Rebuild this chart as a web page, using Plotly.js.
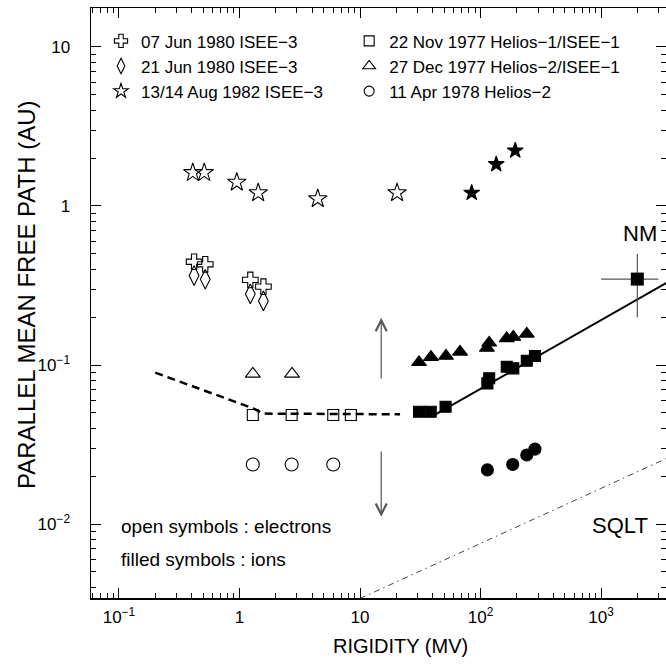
<!DOCTYPE html>
<html>
<head>
<meta charset="utf-8">
<script src="https://cdn.plot.ly/plotly-3.0.1.min.js"></script>
<style>html,body{margin:0;padding:0;background:#fff;}#chart{width:666px;height:664px;}</style>
</head>
<body>
<div id="chart"></div>
<script>
// ---- data (rigidity in MV, mean free path in AU) ----
const crossX   = [0.42, 0.52, 1.23, 1.58];
const crossY   = [0.446, 0.43, 0.343, 0.311];
const diamondX = [0.42, 0.52, 1.23, 1.58];
const diamondY = [0.365, 0.346, 0.28, 0.253];
const starOpenX = [0.41, 0.51, 0.95, 1.43, 4.46, 20.3];
const starOpenY = [1.62, 1.62, 1.41, 1.21, 1.11, 1.21];
const starFillX = [84.5, 135, 194];
const starFillY = [1.21, 1.83, 2.23];
const sqOpenX = [1.29, 2.71, 6.0, 8.4];
const sqOpenY = [0.0485, 0.0485, 0.0485, 0.0485];
const sqFillX = [30.9, 38.6, 51.3, 114, 118, 165, 187, 242, 283];
const sqFillY = [0.0508, 0.0508, 0.0547, 0.0767, 0.0825, 0.0976, 0.0953, 0.1064, 0.114];
const triOpenX = [1.29, 2.73];
const triOpenY = [0.088, 0.088];
const triFillX = [30.9, 38.8, 51.7, 67.6, 113, 118, 165, 187, 242];
const triFillY = [0.104, 0.112, 0.114, 0.121, 0.128, 0.138, 0.147, 0.150, 0.157];
const circOpenX = [1.29, 2.71, 6.0];
const circOpenY = [0.0237, 0.0237, 0.0237];
const circFillX = [114, 185, 242, 283];
const circFillY = [0.0219, 0.0237, 0.0272, 0.0296];
const nmX = [2000];
const nmY = [0.347];
const nmXminus = [1000], nmXplus = [990];
const nmYminus = [0.147], nmYplus = [0.152];
const electronFitX = [0.2, 1.3, 1.58, 21.5];
const electronFitY = [0.0895, 0.0534, 0.0495, 0.049];
const ionFitX = [42, 3600];
const ionFitY = [0.0487, 0.333];
const sqltX = [10, 4000];
const sqltY = [0.0034, 0.0271];
const arrowX = 15;
const arrowUp = {tail: 0.0805, head: 0.198};
const arrowDown = {tail: 0.0292, head: 0.0111};

const legendNames1 = ['07 Jun 1980 ISEE−3', '21 Jun 1980 ISEE−3', '13/14 Aug 1982 ISEE−3'];
const legendNames2 = ['22 Nov 1977 Helios−1/ISEE−1', '27 Dec 1977 Helios−2/ISEE−1', '11 Apr 1978 Helios−2'];
const xTickVals = [0.1, 1, 10, 100, 1000];
const xTickText = ['10<sup>−1</sup>', '1', '10', '10<sup>2</sup>', '10<sup>3</sup>'];
const yTickVals = [0.01, 0.1, 1, 10];
const yTickText = ['10<sup>−2</sup>', '10<sup>−1</sup>', '1', '10'];

const FONT = 'Liberation Sans, Arial, Helvetica, sans-serif';

function minorVals(lo, hi) {
  const v = [];
  for (let e = lo; e <= hi; e++) for (let m = 2; m <= 9; m++) v.push(m * Math.pow(10, e));
  return v;
}

function pts(x, y, symbol, size) {
  return {x: x, y: y, type: 'scatter', mode: 'markers', showlegend: false,
    marker: {symbol: symbol, size: size, color: 'black', line: {width: 1.1, color: 'black'}},
    cliponaxis: false, hoverinfo: 'x+y'};
}
// legend-only entries (no points), so the key symbols can be drawn at the reference's smaller size
function key(name, symbol, size, legend) {
  return {x: [null], y: [null], type: 'scatter', mode: 'markers', name: name, legend: legend, showlegend: true,
    marker: {symbol: symbol, size: size, color: 'black', line: {width: 1.1, color: 'black'}}, hoverinfo: 'skip'};
}

const traces = [
  {x: electronFitX, y: electronFitY, type: 'scatter', mode: 'lines', showlegend: false,
   line: {color: 'black', width: 2.5, dash: '8px,5px'}},
  {x: ionFitX, y: ionFitY, type: 'scatter', mode: 'lines', showlegend: false,
   line: {color: 'black', width: 2}},
  {x: sqltX, y: sqltY, type: 'scatter', mode: 'lines', showlegend: false,
   line: {color: '#444', width: 1, dash: '6px,4px,1.5px,4px'}},
  pts(crossX, crossY, 'cross-open', 13),
  pts(diamondX, diamondY, 'diamond-tall-open', 14),
  pts(starOpenX, starOpenY, 'star-open', 14),
  pts(starFillX, starFillY, 'star', 12),
  pts(sqOpenX, sqOpenY, 'square-open', 11),
  pts(triOpenX, triOpenY, 'triangle-up-open', 13),
  pts(circOpenX, circOpenY, 'circle-open', 13),
  pts(sqFillX, sqFillY, 'square', 11),
  pts(triFillX, triFillY, 'triangle-up', 13),
  pts(circFillX, circFillY, 'circle', 12),
  {x: nmX, y: nmY, type: 'scatter', mode: 'markers', showlegend: false,
   marker: {symbol: 'square', size: 13, color: 'black'},
   error_x: {type: 'data', symmetric: false, array: nmXplus, arrayminus: nmXminus, color: '#555', thickness: 1.2, width: 0},
   error_y: {type: 'data', symmetric: false, array: nmYplus, arrayminus: nmYminus, color: '#555', thickness: 1.2, width: 0}},
  key(legendNames1[0], 'cross-open', 11, 'legend'),
  key(legendNames1[1], 'diamond-tall-open', 11, 'legend'),
  key(legendNames1[2], 'star-open', 11, 'legend'),
  key(legendNames2[0], 'square-open', 10, 'legend2'),
  key(legendNames2[1], 'triangle-up-open', 11, 'legend2'),
  key(legendNames2[2], 'circle-open', 10, 'legend2')
];

const L = Math.log10;
function txt(text, x, y, size, extra) {
  return Object.assign({text: text, xref: 'paper', yref: 'paper', x: x, y: y, xanchor: 'center', yanchor: 'middle',
    showarrow: false, font: {size: size, family: FONT, color: 'black'}}, extra || {});
}
const annotations = [
  {x: L(arrowX), y: L(arrowUp.head), ax: L(arrowX), ay: L(arrowUp.tail), xref: 'x', yref: 'y', axref: 'x', ayref: 'y',
   text: '', showarrow: true, arrowhead: 5, arrowsize: 1.8, arrowwidth: 1.2, arrowcolor: '#555'},
  {x: L(arrowX), y: L(arrowDown.head), ax: L(arrowX), ay: L(arrowDown.tail), xref: 'x', yref: 'y', axref: 'x', ayref: 'y',
   text: '', showarrow: true, arrowhead: 5, arrowsize: 1.8, arrowwidth: 1.2, arrowcolor: '#555'},
  txt('NM', 0.9548, 0.6186, 22),
  txt('SQLT', 0.92, 0.1237, 22),
  txt('open symbols : electrons', 0.0487, 0.1204, 19, {xanchor: 'left'}),
  txt('filled symbols : ions', 0.0487, 0.0661, 19, {xanchor: 'left'}),
  txt('RIGIDITY (MV)', 0.539, -0.0814, 20),
  txt('PARALLEL MEAN FREE PATH (AU)', -0.1113, 0.5136, 24, {textangle: -90})
];

const axisCommon = {
  type: 'log', showgrid: false, zeroline: false, showline: true, linecolor: 'black', linewidth: 1.5,
  mirror: 'ticks', ticks: 'inside', ticklen: 10, tickwidth: 1, tickcolor: 'black',
  tickfont: {size: 17, family: FONT, color: 'black'}, tickmode: 'array'
};

const layout = {
  width: 666, height: 664,
  margin: {l: 91, r: 0, t: 8, b: 66, pad: 0},
  paper_bgcolor: 'white', plot_bgcolor: 'white',
  font: {family: FONT, color: 'black'},
  xaxis: Object.assign({}, axisCommon, {
    range: [-1.232, 3.539], tickvals: xTickVals, ticktext: xTickText, ticklabelstandoff: 3,
    minor: {tickmode: 'array', tickvals: minorVals(-2, 4), ticks: 'inside', ticklen: 5, tickwidth: 1, tickcolor: 'black', showgrid: false}
  }),
  yaxis: Object.assign({}, axisCommon, {
    range: [-2.465, 1.245], tickvals: yTickVals, ticktext: yTickText, ticklabelstandoff: 16,
    minor: {tickmode: 'array', tickvals: minorVals(-3, 2), ticks: 'inside', ticklen: 5, tickwidth: 1, tickcolor: 'black', showgrid: false}
  }),
  legend: {x: 0.0174, y: 0.974, xanchor: 'left', yanchor: 'top', bgcolor: 'rgba(0,0,0,0)', borderwidth: 0,
    font: {size: 17, family: FONT, color: 'black'}, tracegroupgap: 0},
  legend2: {x: 0.449, y: 0.974, xanchor: 'left', yanchor: 'top', bgcolor: 'rgba(0,0,0,0)', borderwidth: 0,
    font: {size: 17, family: FONT, color: 'black'}, tracegroupgap: 0},
  annotations: annotations,
  showlegend: true
};

Plotly.newPlot('chart', traces, layout, {staticPlot: true, displayModeBar: false});
</script>
</body>
</html>
